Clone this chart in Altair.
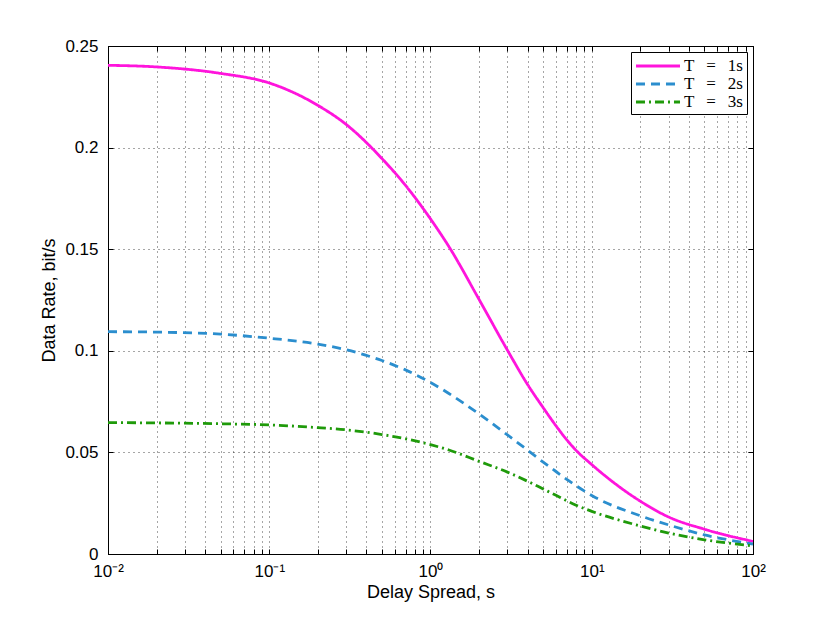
import altair as alt
import pandas as pd

# ---- data ----
delay_spread = [0.01, 0.02, 0.05, 0.1, 0.2, 0.3, 0.5, 0.7, 1, 1.3, 2, 3, 4, 5, 6, 7, 8, 10, 20, 30, 50, 100]
rate_T1 = [0.2405, 0.2397, 0.2365, 0.2318, 0.2208, 0.2114, 0.1946, 0.1814, 0.1649, 0.1513,
           0.1253, 0.1003, 0.0834, 0.0720, 0.0631, 0.0562, 0.0510, 0.0440, 0.0260, 0.0182, 0.0122, 0.0062]
rate_T2 = [0.1094, 0.1092, 0.1082, 0.1062, 0.1033, 0.1005, 0.0952, 0.0906, 0.0844, 0.0790,
           0.0689, 0.0586, 0.0511, 0.0452, 0.0406, 0.0367, 0.0336, 0.0288, 0.0188, 0.0143, 0.0094, 0.0049]
rate_T3 = [0.0647, 0.0645, 0.0641, 0.0635, 0.0622, 0.0611, 0.0588, 0.0567, 0.0538, 0.0512,
           0.0456, 0.0403, 0.0358, 0.0320, 0.0289, 0.0262, 0.0240, 0.0210, 0.0138, 0.0103, 0.0070, 0.0040]

series_names = ["T\u2002\u2009=\u2002\u20091s", "T\u2002\u2009=\u2002\u20092s", "T\u2002\u2009=\u2002\u20093s"]
series_colors = ["#ff14dc", "#2b8ece", "#1f9a0a"]
series_dashes = [[1, 0], [9, 6], [9, 4, 2, 4]]

x_decades = [0.01, 0.1, 1, 10, 100]
x_decade_labels = ["10\u207b\u00b2", "10\u207b\u00b9", "10\u2070", "10\u00b9", "10\u00b2"]
x_grid_values = [round(k * 10.0 ** e, 6) for e in range(-2, 2) for k in range(1, 10)] + [100]
y_tick_values = [0, 0.05, 0.1, 0.15, 0.2, 0.25]

rows = []
for name, vals in zip(series_names, [rate_T1, rate_T2, rate_T3]):
    for d, v in zip(delay_spread, vals):
        rows.append({"delay": d, "rate": v, "series": name})
df = pd.DataFrame(rows)

label_expr = "''"
for v, lab in reversed(list(zip(x_decades, x_decade_labels))):
    label_expr = f"datum.value == {v} ? '{lab}' : ({label_expr})"

x_scale = alt.Scale(type="log", domain=[0.01, 100], nice=False)
y_scale = alt.Scale(domain=[0, 0.25], nice=False)

lines = alt.Chart(df).mark_line(strokeWidth=2.8, interpolate="monotone", clip=True).encode(
    x=alt.X("delay:Q", scale=x_scale,
            axis=alt.Axis(values=x_grid_values, labelExpr=label_expr, title="Delay Spread, s",
                          ticks=False, labelPadding=9, titlePadding=4, labelFlush=False)),
    y=alt.Y("rate:Q", scale=y_scale,
            axis=alt.Axis(values=y_tick_values, format="~g", title="Data Rate, bit/s",
                          ticks=False, labelPadding=10, titlePadding=6, labelFlush=False)),
    color=alt.Color("series:N", scale=alt.Scale(domain=series_names, range=series_colors),
                    legend=alt.Legend(title=None, orient="top-right")),
    strokeDash=alt.StrokeDash("series:N", scale=alt.Scale(domain=series_names, range=series_dashes),
                              legend=alt.Legend(title=None, orient="top-right")),
)

ticks_top = alt.Chart(df).mark_point(opacity=0).encode(
    x=alt.X("delay:Q", scale=x_scale,
            axis=alt.Axis(orient="top", offset=-5, tickSize=5, labels=False, domain=False, grid=False,
                          title=None, values=x_grid_values)),
    y=alt.Y("rate:Q", scale=y_scale,
            axis=alt.Axis(orient="right", offset=-5, tickSize=5, labels=False, domain=False, grid=False,
                          title=None, values=y_tick_values)),
)

ticks_bottom = alt.Chart(df).mark_point(opacity=0).encode(
    x=alt.X("delay:Q", scale=x_scale,
            axis=alt.Axis(orient="bottom", offset=-5, tickSize=5, labels=False, domain=False, grid=False,
                          title=None, values=x_grid_values)),
    y=alt.Y("rate:Q", scale=y_scale,
            axis=alt.Axis(orient="left", offset=-5, tickSize=5, labels=False, domain=False, grid=False,
                          title=None, values=y_tick_values)),
)

chart = alt.layer(lines, ticks_top, ticks_bottom).resolve_axis(
    x="independent", y="independent"
).properties(
    width=645, height=508,
    padding={"left": 100, "top": 38, "right": 62, "bottom": 62},
    autosize=alt.AutoSizeParams(type="none"),
).configure_view(
    stroke="black", strokeWidth=1
).configure_axis(
    labelFont="Liberation Sans", labelFontSize=17, labelColor="black",
    titleFont="Liberation Sans", titleFontSize=18, titleFontWeight="normal", titleColor="black",
    domainColor="black", domainWidth=1, tickColor="black",
    gridColor="#000000", gridDash=[1, 4], gridOpacity=0.7, gridWidth=1,
).configure_legend(
    strokeColor="black", fillColor="white", padding=4, cornerRadius=0,
    labelFont="Liberation Serif", labelFontSize=17, labelColor="black",
    symbolType="M-2.59,0H2.59", symbolSize=289, symbolStrokeWidth=2.8, symbolOffset=13,
    labelOffset=16, rowPadding=0, offset=6,
)

chart.save("out.html", embed_options={"renderer": "svg", "actions": False})
